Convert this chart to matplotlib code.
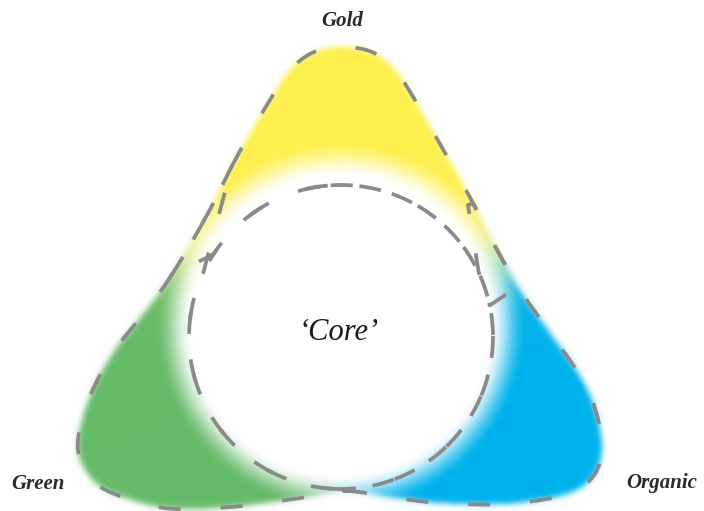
import numpy as np
import matplotlib
matplotlib.use("Agg")
import matplotlib.pyplot as plt
from matplotlib.path import Path

# ---------------- content ----------------
lobe_labels = ["Gold", "Green", "Organic"]
core_label = "\u2018Core\u2019"
lobe_colors = [(255, 240, 78), (102, 187, 106), (0, 178, 236)]   # yellow, green, blue
# angular boundaries (deg, math convention) between lobes: blue|gold, gold|green, green|blue
lobe_bounds = [25, 155, 270]

# ---------------- geometry (pixel space) ----------------
W, H = 704, 511
cx, cy, r_core = 341.0, 337.0, 152.0

outer_pts = [
    (342, 47), (372, 52), (395, 70), (412, 95), (432, 130), (452, 165),
    (474, 205), (496, 248), (520, 290), (548, 330), (575, 368), (592, 400),
    (601, 435), (600, 462), (587, 483), (560, 496), (505, 504), (440, 503),
    (390, 497), (345, 491), (300, 498), (230, 507), (165, 508), (110, 492),
    (88, 474), (78, 450), (82, 420), (95, 385), (115, 350), (140, 318),
    (165, 285), (190, 245), (214, 202), (234, 162), (255, 125), (275, 92),
    (292, 68), (314, 52),
]


def catmull_closed(pts, n=24):
    P = np.asarray(pts, float)
    m = len(P)
    out = []
    t = np.linspace(0, 1, n, endpoint=False)[:, None]
    for i in range(m):
        p0, p1, p2, p3 = P[i - 1], P[i], P[(i + 1) % m], P[(i + 2) % m]
        out.append(0.5 * ((2 * p1) + (-p0 + p2) * t + (2 * p0 - 5 * p1 + 4 * p2 - p3) * t ** 2
                          + (-p0 + 3 * p1 - 3 * p2 + p3) * t ** 3))
    return np.vstack(out)


outer = catmull_closed(outer_pts)
N = len(outer)


def nearest(p):
    return int(np.argmin(np.hypot(outer[:, 0] - p[0], outer[:, 1] - p[1])))


def outer_arc(p_start, p_end, via):
    i1, i2, iv = nearest(p_start), nearest(p_end), nearest(via)
    fwd = [(i1 + k) % N for k in range((i2 - i1) % N + 1)]
    if iv in fwd:
        return outer[fwd]
    bwd = [(i1 - k) % N for k in range((i1 - i2) % N + 1)]
    return outer[bwd]


def circ(a0, a1, n=200):
    a = np.radians(np.linspace(a0, a1, n))
    return np.c_[cx + r_core * np.cos(a), cy - r_core * np.sin(a)]


# ---------------- fill image ----------------
yy, xx = np.mgrid[0:H, 0:W] + 0.5
inside = Path(outer).contains_points(np.c_[xx.ravel(), yy.ravel()]).reshape(H, W).astype(float)


def blur(a, s):
    rad = int(3 * s)
    k = np.exp(-0.5 * (np.arange(-rad, rad + 1) / s) ** 2)
    k /= k.sum()
    p = np.pad(a, ((0, 0), (rad, rad)), mode="edge")
    a = sum(k[j] * p[:, j:j + a.shape[1]] for j in range(len(k)))
    p = np.pad(a, ((rad, rad), (0, 0)), mode="edge")
    a = sum(k[j] * p[j:j + a.shape[0], :] for j in range(len(k)))
    return a


soft = blur(inside, 3.0)

th = np.degrees(np.arctan2(-(yy - cy), xx - cx)) % 360


def sig(x):
    return 1.0 / (1.0 + np.exp(-x))


def adiff(a, b):
    return (a - b + 180) % 360 - 180


wdt = 5.0
b_yb, b_yg, b_gb = lobe_bounds
wy = sig(adiff(th, b_yb) / wdt) * sig(-adiff(th, b_yg) / wdt)
wg = sig(adiff(th, b_yg) / wdt) * sig(-adiff(th, b_gb) / wdt)
wb = sig(adiff(th, b_gb) / wdt) * sig(-adiff(th, b_yb) / wdt)
ws = wy + wg + wb + 1e-9
cols = np.array(lobe_colors, float)
color = (wy[..., None] * cols[0] + wg[..., None] * cols[1] + wb[..., None] * cols[2]) / ws[..., None]

rr = np.hypot(xx - cx, yy - 326.0)
t = np.clip((rr - 148.0) / (186.0 - 148.0), 0, 1)
t = t * t * (3 - 2 * t)
alpha = soft * t
rgb = (255.0 * (1 - alpha)[..., None] + color * alpha[..., None]) / 255.0
rgb = np.clip(rgb, 0, 1)

# ---------------- figure ----------------
fig = plt.figure(figsize=(W / 100, H / 100), dpi=100)
ax = fig.add_axes([0, 0, 1, 1])
ax.imshow(rgb, extent=(0, W, H, 0), interpolation="bilinear")
ax.set_xlim(0, W)
ax.set_ylim(H, 0)
ax.axis("off")

lw = 2.7
px_pt = 100 / 72
on, off = 22 / px_pt / lw, 40 / px_pt / lw
dash_kw = dict(color="#8a8a8a", lw=lw, linestyle=(0, (on, off)))

# yellow petal loop
A_y, B_y = (172, 275), (512, 290)
yl = np.vstack([outer_arc(A_y, B_y, (342, 47)), circ(12, 147), [A_y]])
# green petal loop
A_g, bot = (232, 166), (345, 491)
gl = np.vstack([outer_arc(A_g, bot, (80, 450)), circ(270, 155), [A_g]])
# blue petal loop
A_b = (468, 205)
bl = np.vstack([outer_arc(bot, A_b, (600, 450)), [A_b], circ(25, -90)])
core = circ(95, 455, 400)

for pts in [core, yl, gl, bl]:
    ax.plot(pts[:, 0], pts[:, 1], **dash_kw)

lab_kw = dict(family="Liberation Serif", style="italic", weight="bold", color="#2a2a2a",
              ha="center", va="center", fontsize=15)
ax.text(342, 21, lobe_labels[0], **lab_kw)
ax.text(38, 484, lobe_labels[1], **lab_kw)
ax.text(662, 483, lobe_labels[2], **lab_kw)
ax.text(339, 333, core_label, family="Liberation Serif", style="italic", color="#1a1a1a",
        ha="center", va="center", fontsize=22)

fig.savefig("out.png", dpi=100)
